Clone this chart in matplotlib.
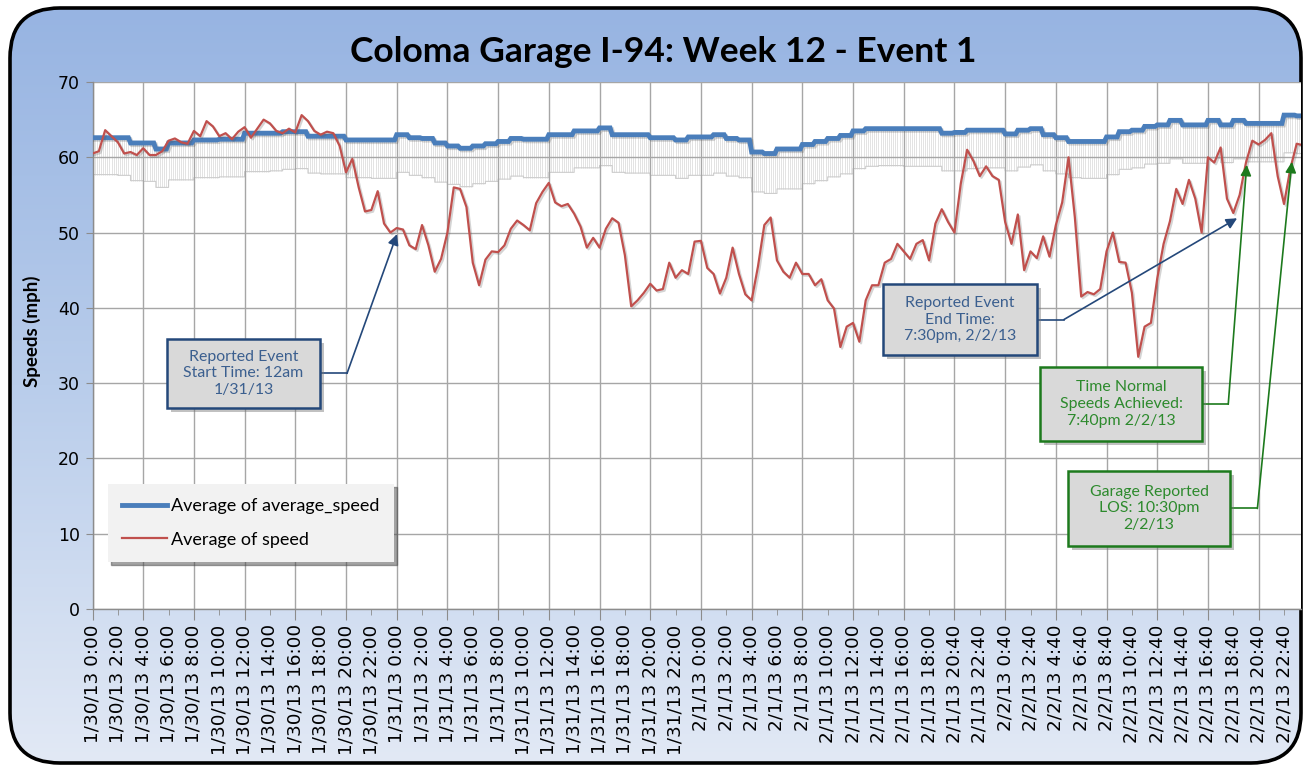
import numpy as np
import matplotlib
matplotlib.use("Agg")
import matplotlib.pyplot as plt
from matplotlib.patches import FancyBboxPatch, Rectangle
from matplotlib.lines import Line2D
from matplotlib.colors import LinearSegmentedColormap
import matplotlib.patheffects as pe

# ---------------- data ----------------
title = "Coloma Garage I-94: Week 12 - Event 1"
y_label = "Speeds (mph)"
series_names = ["Average of average_speed", "Average of speed"]

tick_labels = (
    ["1/30/13 %d:00" % h for h in range(0, 24, 2)]
    + ["1/31/13 %d:00" % h for h in range(0, 24, 2)]
    + ["2/1/13 %d:00" % h for h in range(0, 20, 2)]
    + ["2/1/13 20:40", "2/1/13 22:40"]
    + ["2/2/13 %d:40" % h for h in range(0, 24, 2)]
)

# hourly average_speed (two values per axis label)
avg_speed = [
    62.6, 62.6, 62.6, 61.9, 61.9, 61.1, 61.9, 61.9, 62.3, 62.3, 62.4, 62.4,
    63.2, 63.2, 63.2, 63.4, 63.4, 62.8, 62.8, 62.8, 62.3, 62.3, 62.3, 62.3,
    63.0, 62.6, 62.5, 61.9, 61.5, 61.2, 61.5, 61.8, 62.1, 62.5, 62.4, 62.4,
    63.0, 63.0, 63.5, 63.5, 63.9, 63.0, 63.0, 63.0, 62.6, 62.6, 62.3, 62.7,
    62.7, 63.0, 62.5, 62.3, 60.7, 60.5, 61.1, 61.1, 61.7, 62.1, 62.5, 62.9,
    63.5, 63.8, 63.8, 63.8, 63.8, 63.8, 63.8, 63.2, 63.3, 63.6, 63.6, 63.6,
    63.1, 63.6, 63.8, 63.0, 62.6, 62.1, 62.1, 62.1, 62.7, 63.4, 63.6, 64.1,
    64.3, 64.9, 64.3, 64.3, 64.9, 64.3, 64.9, 64.5, 64.5, 64.5, 65.6, 65.5,
]

# downward spread shown as light grey bars under average_speed (per label)
avg_spread = [
    4.9, 5.0, 5.1, 4.9, 5.0, 5.0, 5.1, 5.0, 4.9, 5.0, 5.0, 5.1,
    5.0, 5.2, 5.1, 5.0, 5.0, 5.1, 5.0, 4.9, 5.0, 5.1, 5.0, 5.1,
    5.1, 5.0, 5.3, 5.3, 5.2, 5.1, 5.0, 4.9, 5.0, 5.0, 5.1, 5.0,
    4.9, 4.8, 4.8, 4.9, 5.0, 5.0, 5.1, 5.1, 5.0, 5.1, 5.1, 5.0,
]

# observed speed (four values per axis label)
speed = [
    60.5, 60.8, 63.6, 62.8, 62.0, 60.5, 60.7, 60.3, 61.2, 60.3, 60.3, 60.8,
    62.2, 62.5, 62.0, 61.8, 63.5, 62.8, 64.8, 64.1, 62.8, 63.2, 62.4, 63.4,
    64.0, 62.6, 63.8, 65.0, 64.5, 63.5, 63.2, 63.8, 63.3, 65.6, 64.8, 63.5,
    63.0, 63.4, 63.2, 61.5, 58.0, 59.8, 56.0, 52.8, 53.0, 55.5, 51.2, 50.0,
    50.6, 50.4, 48.3, 47.8, 51.0, 48.3, 44.8, 46.5, 50.0, 56.0, 55.8, 53.4,
    46.0, 43.0, 46.4, 47.5, 47.4, 48.3, 50.5, 51.6, 51.0, 50.3, 53.9, 55.4,
    56.6, 54.0, 53.5, 53.8, 52.5, 50.8, 48.0, 49.3, 48.0, 50.5, 51.9, 51.3,
    47.0, 40.2, 41.0, 42.0, 43.2, 42.3, 42.5, 46.0, 44.0, 45.0, 44.5, 48.8,
    48.9, 45.3, 44.5, 41.9, 44.0, 48.0, 44.5, 41.8, 41.0, 45.5, 51.0, 52.0,
    46.3, 44.8, 44.0, 46.0, 44.5, 44.5, 43.0, 43.8, 41.0, 39.9, 34.8, 37.5,
    38.0, 35.5, 41.0, 43.0, 43.0, 46.0, 46.5, 48.5, 47.5, 46.5, 48.5, 49.0,
    46.3, 51.2, 53.1, 51.4, 50.0, 56.5, 61.0, 59.5, 57.5, 58.8, 57.5, 57.0,
    51.4, 48.5, 52.4, 45.0, 47.5, 46.6, 49.5, 46.8, 51.0, 54.0, 60.0, 52.0,
    41.5, 42.1, 41.8, 42.5, 47.5, 50.0, 46.1, 46.0, 42.0, 33.5, 37.5, 38.0,
    43.9, 48.5, 51.5, 55.8, 53.8, 57.0, 54.5, 50.0, 60.0, 59.3, 61.3, 54.5,
    52.6, 55.0, 59.3, 62.2, 61.7, 62.3, 63.2, 57.5, 53.8, 58.5, 61.8, 61.6,
]

# callouts: text, box (x0, x1, y0, y1) in data units, elbow x, arrow target (x, y), kind
callouts = [
    ("Reported Event\nStart Time: 12am\n1/31/13", (2.94, 8.97, 26.7, 35.9), 10.04, (12.01, 49.8), "blue"),
    ("Reported Event\nEnd Time:\n7:30pm, 2/2/13", (31.18, 37.26, 33.7, 43.2), 38.32, (45.15, 51.9), "blue"),
    ("Time Normal\nSpeeds Achieved:\n7:40pm 2/2/13", (37.38, 43.77, 22.3, 32.1), 44.80, (45.53, 59.0), "green"),
    ("Garage Reported\nLOS: 10:30pm\n2/2/13", (38.48, 44.87, 8.4, 18.3), 45.95, (47.31, 59.4), "green"),
]

# ---------------- style ----------------
BLUE = "#4a7ebb"
RED = "#c0504d"
GRID = "#a6a6a6"
CALL = {"blue": ("#24487a", "#3b5f8f"), "green": ("#1d7a1d", "#2d8a2d")}

W, H = 1303, 767
fig = plt.figure(figsize=(W / 100, H / 100), dpi=100)
fig.patch.set_facecolor("white")

# background rounded frame with gradient
bg = fig.add_axes([0, 0, 1, 1], zorder=-10)
bg.set_xlim(0, W)
bg.set_ylim(H, 0)
bg.axis("off")
frame = FancyBboxPatch((10, 8), 1291, 755, boxstyle="round,pad=0,rounding_size=50",
                       facecolor="none", edgecolor="black", linewidth=2.6, zorder=3)
cmap = LinearSegmentedColormap.from_list("bgg", ["#97b4e2", "#b9cdeb", "#e2e9f5"])
grad = np.linspace(0, 1, 256).reshape(-1, 1)
im = bg.imshow(grad, extent=[10, 1301, 763, 8], aspect="auto", cmap=cmap, origin="upper", zorder=1)
bg.add_patch(frame)
im.set_clip_path(frame)

fig.text(663 / W, 1 - 52 / H, title, ha="center", va="center",
         fontsize=25.5, fontweight="bold", family=["Lato", "DejaVu Sans"], color="black")
fig.text(32 / W, 1 - 331 / H, y_label, ha="center", va="center", rotation=90,
         fontsize=13.5, fontweight="bold", family=["Lato", "DejaVu Sans"], color="black")

ax = fig.add_axes([92.5 / W, 1 - 609 / H, (1301 - 92.5) / W, (609 - 82) / H])
ax.set_facecolor("white")
n_lab = len(tick_labels)
ax.set_xlim(0, 47.67)
ax.set_ylim(0, 70)

# grey spread bars (10-minute resolution)
per_lab_fine = 12
x_fine = np.arange(n_lab * per_lab_fine) / per_lab_fine
top_fine = np.repeat(np.array(avg_speed), per_lab_fine // 2)
bot_fine = top_fine - np.repeat(np.array(avg_spread), per_lab_fine)
ax.vlines(x_fine, bot_fine, top_fine, color="#d8d8d8", lw=0.5, zorder=0.3)
ax.plot(x_fine, bot_fine, drawstyle="steps-post", color="#cdcdcd", lw=0.8, zorder=0.35)

shadow = [pe.SimpleLineShadow(offset=(1.2, -1.2), shadow_color="#555555", alpha=0.25), pe.Normal()]
# hourly values held over each hour, with a short 10-minute ramp to the next hour
edges = np.arange(len(avg_speed) + 1) * 0.5
x_avg = np.column_stack([edges[:-1], edges[1:] - 1 / per_lab_fine]).ravel()
y_avg = np.repeat(np.array(avg_speed), 2)
ax.plot(x_avg, y_avg, color=BLUE, lw=3.5, zorder=3, solid_joinstyle="miter", path_effects=shadow)
x_speed = np.arange(len(speed)) * 0.25
ax.plot(x_speed, speed, color=RED, lw=1.6, zorder=4, solid_joinstyle="round", path_effects=shadow)

# axes styling
ax.set_axisbelow(True)
ax.grid(True, which="major", color=GRID, lw=1.0)
for s in ["top", "right"]:
    ax.spines[s].set_visible(False)
for s in ["left", "bottom"]:
    ax.spines[s].set_color("#8c8c8c")
    ax.spines[s].set_linewidth(1.0)

pos = np.arange(n_lab)
ax.set_xticks(pos[0::2])
ax.set_xticklabels(tick_labels[0::2], rotation=90, fontsize=13.2, family="DejaVu Sans")
ax.set_xticks(pos[1::2], minor=True)
ax.set_xticklabels(tick_labels[1::2], minor=True, rotation=90, fontsize=13.2, family="DejaVu Sans")
ax.tick_params(axis="x", which="major", length=8, color="#8c8c8c", pad=3)
ax.tick_params(axis="x", which="minor", length=4, color="#8c8c8c", pad=7)
ax.set_yticks(np.arange(0, 71, 10))
ax.tick_params(axis="y", length=5, color="#8c8c8c", labelsize=12.5, pad=4)

# legend
handles = [Line2D([], [], color=BLUE, lw=3.5), Line2D([], [], color=RED, lw=1.6)]
leg = ax.legend(handles, series_names, loc="lower left", bbox_to_anchor=(0.0128, 0.089),
                borderaxespad=0, frameon=True, fancybox=False, shadow=True,
                prop={"family": "Lato", "size": 13}, handlelength=2.45, handletextpad=0.25,
                labelspacing=0.95, borderpad=0.8)
leg.get_frame().set_facecolor("#f2f2f2")
leg.get_frame().set_edgecolor("none")
leg.get_frame().set_alpha(1)
leg.set_zorder(5)

# callouts
for text, (x0, x1, y0, y1), ex, (tx, ty), kind in callouts:
    ec, tc = CALL[kind]
    rect = Rectangle((x0, y0), x1 - x0, y1 - y0, facecolor="#d9d9d9", edgecolor=ec,
                     lw=1.8, zorder=6, clip_on=False,
                     path_effects=[pe.SimplePatchShadow(offset=(3, -3), shadow_rgbFace="#777777", alpha=0.45),
                                   pe.Normal()])
    ax.add_patch(rect)
    ym = (y0 + y1) / 2
    ax.text((x0 + x1) / 2, ym, text, ha="center", va="center", fontsize=11.4,
            family=["Lato", "DejaVu Sans"], color=tc, linespacing=1.25, zorder=7)
    ax.plot([x1, ex], [ym, ym], color=ec, lw=1.2, zorder=5.5, clip_on=False)
    ax.annotate("", xy=(tx, ty), xytext=(ex, ym),
                arrowprops=dict(arrowstyle="-|>", color=ec, lw=1.2, mutation_scale=16,
                                shrinkA=0, shrinkB=0), zorder=5.5)

fig.savefig("out.png", dpi=100)
